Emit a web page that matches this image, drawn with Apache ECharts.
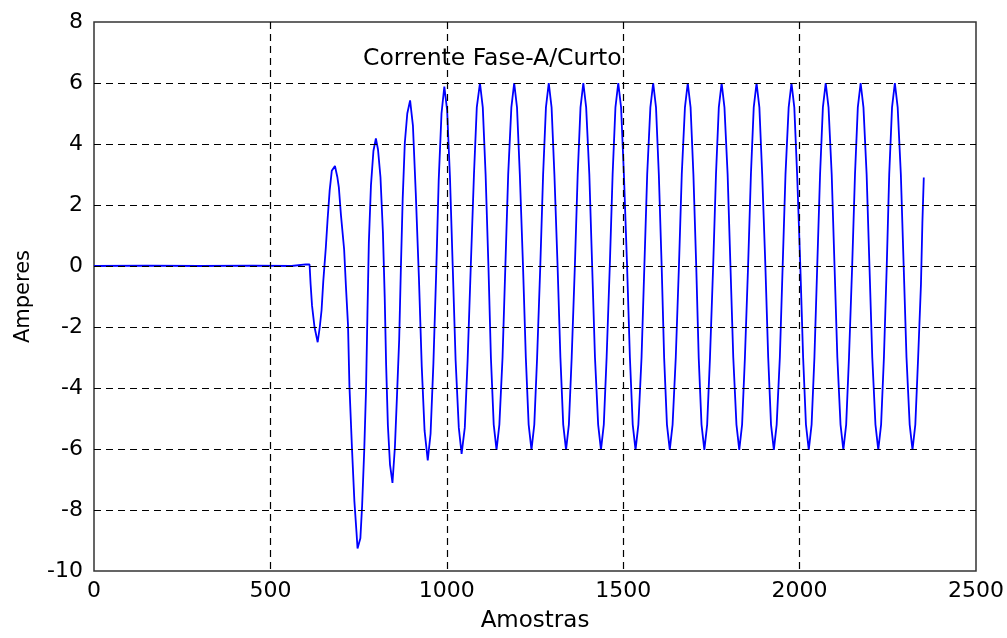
<!DOCTYPE html>
<html>
<head>
<meta charset="utf-8">
<script src="https://cdn.jsdelivr.net/npm/echarts@6/dist/echarts.min.js"></script>
<style>
  html, body { margin: 0; padding: 0; background: #fff; }
  #chart { width: 1007px; height: 638px; }
</style>
</head>
<body>
<div id="chart"></div>
<script>
// ---- Data ----
const chartTitle = 'Corrente Fase-A/Curto';
const xAxisName = 'Amostras';
const yAxisName = 'Amperes';
const xTicks = [0, 500, 1000, 1500, 2000, 2500];
const yTicks = [-10, -8, -6, -4, -2, 0, 2, 4, 6, 8];

// [amostra, amperes]
const flatSection = [
  [0, 0], [150, 0.01], [300, 0], [450, 0.01], [560, 0], [600, 0.05], [611, 0.05]
];

const transientSection = [
  [614, -0.6], [618, -1.3], [625, -2.0], [634, -2.5], [640, -2.0], [645, -1.45],
  [650, -0.48], [657, 0.59], [662, 1.51], [668, 2.48], [674, 3.12], [683, 3.28],
  [690, 2.9], [694, 2.58], [700, 1.67], [709, 0.54], [714, -0.65], [720, -1.94],
  [724, -3.93], [731, -5.92], [738, -7.7], [744, -8.72], [747, -9.26], [751, -9.2],
  [755, -8.93], [760, -7.85], [766, -6.03], [771, -4.09], [775, -1.61], [779, 0.75],
  [785, 2.64], [792, 3.77], [799, 4.18], [805, 3.82], [812, 2.91], [819, 1.08],
  [824, -1.02], [828, -3.23], [833, -5.22], [839, -6.51], [846, -7.11], [853, -5.92],
  [859, -4.2], [865, -2.42], [870, 0], [875, 2.21], [881, 4.04], [888, 5.0], [896, 5.43],
  [904, 4.6], [912, 2.4], [921, -0.4], [929, -3.3], [937, -5.4], [946, -6.37],
  [954, -5.5], [962, -3.2], [970, -0.2], [977, 2.8], [985, 5.0], [993, 5.88],
  [1001, 5.1], [1009, 2.9], [1017, -0.1], [1025, -3.1], [1034, -5.3], [1042, -6.16],
  [1051, -5.3], [1059, -3.1], [1068, 0], [1077, 3.0], [1085, 5.2], [1094, 6.0]
];

const steadySection = [
  [1102, 5.2], [1110, 3.0], [1118, 0], [1125, -3.0], [1133, -5.2], [1141, -6.03],
  [1149, -5.2], [1158, -3.0], [1166, 0], [1174, 3.0], [1183, 5.2], [1191, 6.0],
  [1199, 5.2], [1207, 3.0], [1216, 0], [1224, -3.0], [1232, -5.2], [1240, -6.03],
  [1248, -5.2], [1256, -3.0], [1265, 0], [1273, 3.0], [1281, 5.2], [1289, 6.0],
  [1297, 5.2], [1305, 3.0], [1314, 0], [1322, -3.0], [1330, -5.2], [1338, -6.03],
  [1346, -5.2], [1354, -3.0], [1363, 0], [1371, 3.0], [1379, 5.2], [1387, 6.0],
  [1395, 5.2], [1404, 3.0], [1412, 0], [1420, -3.0], [1429, -5.2], [1437, -6.03],
  [1445, -5.2], [1453, -3.0], [1462, 0], [1470, 3.0], [1478, 5.2], [1486, 6.0],
  [1494, 5.2], [1502, 3.0], [1511, 0], [1519, -3.0], [1527, -5.2], [1535, -6.03],
  [1543, -5.2], [1552, -3.0], [1560, 0], [1568, 3.0], [1577, 5.2], [1585, 6.0],
  [1593, 5.2], [1601, 3.0], [1609, 0], [1616, -3.0], [1624, -5.2], [1632, -6.03],
  [1640, -5.2], [1649, -3.0], [1658, 0], [1666, 3.0], [1675, 5.2], [1683, 6.0],
  [1691, 5.2], [1699, 3.0], [1707, 0], [1714, -3.0], [1722, -5.2], [1730, -6.03],
  [1738, -5.2], [1746, -3.0], [1755, 0], [1763, 3.0], [1771, 5.2], [1779, 6.0],
  [1787, 5.2], [1796, 3.0], [1804, 0], [1812, -3.0], [1821, -5.2], [1829, -6.03],
  [1837, -5.2], [1845, -3.0], [1854, 0], [1862, 3.0], [1870, 5.2], [1878, 6.0],
  [1886, 5.2], [1894, 3.0], [1903, 0], [1911, -3.0], [1919, -5.2], [1927, -6.03],
  [1935, -5.2], [1944, -3.0], [1952, 0], [1960, 3.0], [1969, 5.2], [1977, 6.0],
  [1985, 5.2], [1993, 3.0], [2002, 0], [2010, -3.0], [2018, -5.2], [2026, -6.03],
  [2034, -5.2], [2042, -3.0], [2050, 0], [2058, 3.0], [2066, 5.2], [2074, 6.0],
  [2082, 5.2], [2091, 3.0], [2099, 0], [2107, -3.0], [2116, -5.2], [2124, -6.03],
  [2132, -5.2], [2140, -3.0], [2149, 0], [2157, 3.0], [2165, 5.2], [2173, 6.0],
  [2181, 5.2], [2190, 3.0], [2198, 0], [2206, -3.0], [2215, -5.2], [2223, -6.03],
  [2231, -5.2], [2239, -3.0], [2247, 0], [2254, 3.0], [2262, 5.2], [2270, 6.0],
  [2278, 5.2], [2287, 3.0], [2295, 0], [2303, -3.0], [2312, -5.2], [2320, -6.03],
  [2328, -5.2], [2336, -3.0], [2344, -0.6], [2348, 1.4], [2352, 2.9]
];

const curve = flatSection.concat(transientSection, steadySection);

// ---- Chart ----
const FONT = '"DejaVu Sans", "Liberation Sans", sans-serif';
const chart = echarts.init(document.getElementById('chart'), null, { renderer: 'canvas' });

const gridDash = { color: '#000', width: 1.2, type: [7, 5] };

chart.setOption({
  animation: false,
  backgroundColor: '#fff',
  grid: {
    left: 94, right: 31, top: 22, bottom: 58,
    show: true, borderColor: '#333', borderWidth: 1.5, backgroundColor: '#fff'
  },
  graphic: [{
    type: 'text',
    x: 363, y: 59, z: 1,
    style: {
      text: chartTitle,
      font: '23.5px ' + FONT,
      fill: '#000',
      align: 'left', verticalAlign: 'middle',
      textAlign: 'left', textVerticalAlign: 'middle'
    }
  }],
  xAxis: {
    type: 'value',
    min: xTicks[0], max: xTicks[xTicks.length - 1], interval: 500,
    z: 5,
    name: xAxisName, nameLocation: 'middle', nameGap: 39,
    nameTextStyle: { color: '#000', fontSize: 23, fontFamily: FONT },
    axisLine: { show: false },
    axisTick: { show: false },
    axisLabel: { color: '#000', fontSize: 22, fontFamily: FONT, margin: 9,
      formatter: function (v) { return String(v); } },
    splitLine: { show: true, showMinLine: false, showMaxLine: false, lineStyle: gridDash }
  },
  yAxis: {
    type: 'value',
    min: yTicks[0], max: yTicks[yTicks.length - 1], interval: 2,
    z: 5,
    name: yAxisName, nameLocation: 'middle', nameGap: 60,
    nameTextStyle: { color: '#000', fontSize: 21, fontFamily: FONT },
    axisLine: { show: false },
    axisTick: { show: false },
    axisLabel: { color: '#000', fontSize: 22, fontFamily: FONT, margin: 11,
      formatter: function (v) { return String(v); } },
    splitLine: { show: true, showMinLine: false, showMaxLine: false, lineStyle: gridDash }
  },
  series: [{
    type: 'line',
    data: curve,
    showSymbol: false,
    symbol: 'none',
    z: 2,
    lineStyle: { color: '#0000ff', width: 1.8 },
    silent: true
  }]
});
</script>
</body>
</html>
